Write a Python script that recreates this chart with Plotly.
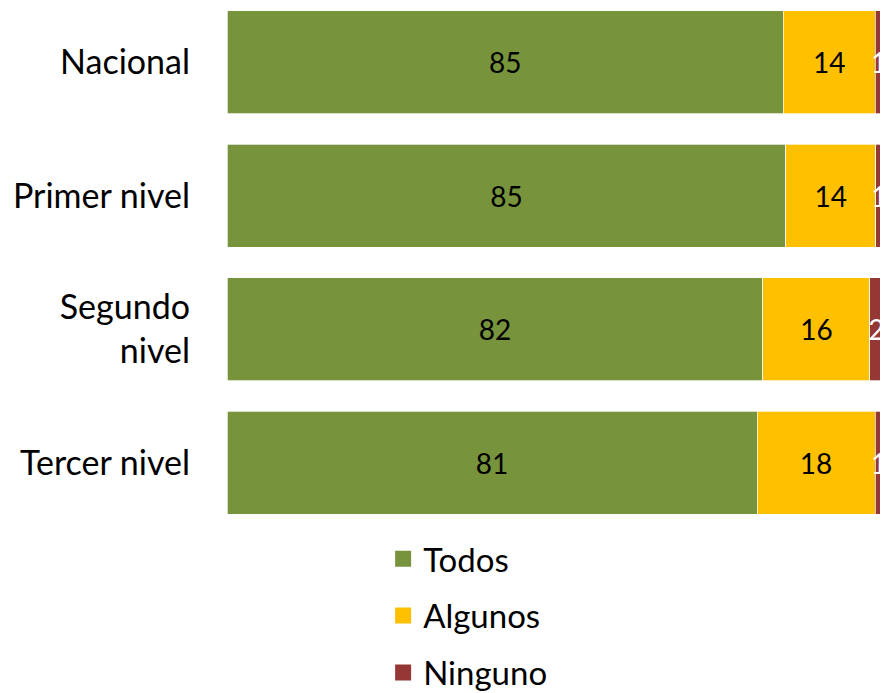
import plotly.graph_objects as go

categories = ["Nacional", "Primer nivel", "Segundo<br>nivel", "Tercer nivel"]
todos = [84.8, 85.2, 81.7, 80.8]
algunos = [14.0, 13.7, 16.3, 18.0]
ninguno = [1.2, 1.1, 2.0, 1.2]
todos_lbl = [85, 85, 82, 81]
algunos_lbl = [14, 14, 16, 18]
ninguno_lbl = [1, 1, 2, 1]

series = [
    ("Todos", todos, todos_lbl, "#77933C", "black"),
    ("Algunos", algunos, algunos_lbl, "#FFC000", "black"),
    ("Ninguno", ninguno, ninguno_lbl, "#953735", "white"),
]

FONT = "Lato, Open Sans, sans-serif"

fig = go.Figure()
for name, vals, lbls, color, tcolor in series:
    fig.add_trace(go.Bar(
        y=categories, x=vals, orientation="h", name=name,
        marker=dict(color=color, line=dict(color="white", width=0.7)),
        text=[str(v) for v in lbls], textposition="inside",
        insidetextanchor="middle", constraintext="none",
        textfont=dict(size=28, color=tcolor, family=FONT),
        showlegend=False, cliponaxis=True,
    ))
for i, (name, vals, lbls, color, tcolor) in enumerate(series):
    fig.add_trace(go.Scatter(
        x=[None], y=[None], mode="markers", name=name,
        marker=dict(symbol="square", size=20, color=color),
        legendgroup=name, showlegend=True,
    ))

fig.update_layout(
    width=880, height=685,
    barmode="stack", bargap=0.2285,
    paper_bgcolor="white", plot_bgcolor="white",
    margin=dict(l=219, r=5, t=0, b=173, autoexpand=False),
    font=dict(family=FONT, size=34, color="black"),
    xaxis=dict(range=[0, 100], visible=False, showgrid=False, zeroline=False),
    yaxis=dict(type="category", categoryarray=categories, categoryorder="array",
               range=[3.427, -0.408], showgrid=False, zeroline=False,
               ticks="", ticklabelstandoff=36, tickfont=dict(size=34),
               automargin=False),
    legend=dict(orientation="v", x=0.238, xanchor="left", y=-0.021, yanchor="top",
                font=dict(size=33), tracegroupgap=11, itemsizing="trace",
                traceorder="grouped"),
)

fig.write_html("out.html")
